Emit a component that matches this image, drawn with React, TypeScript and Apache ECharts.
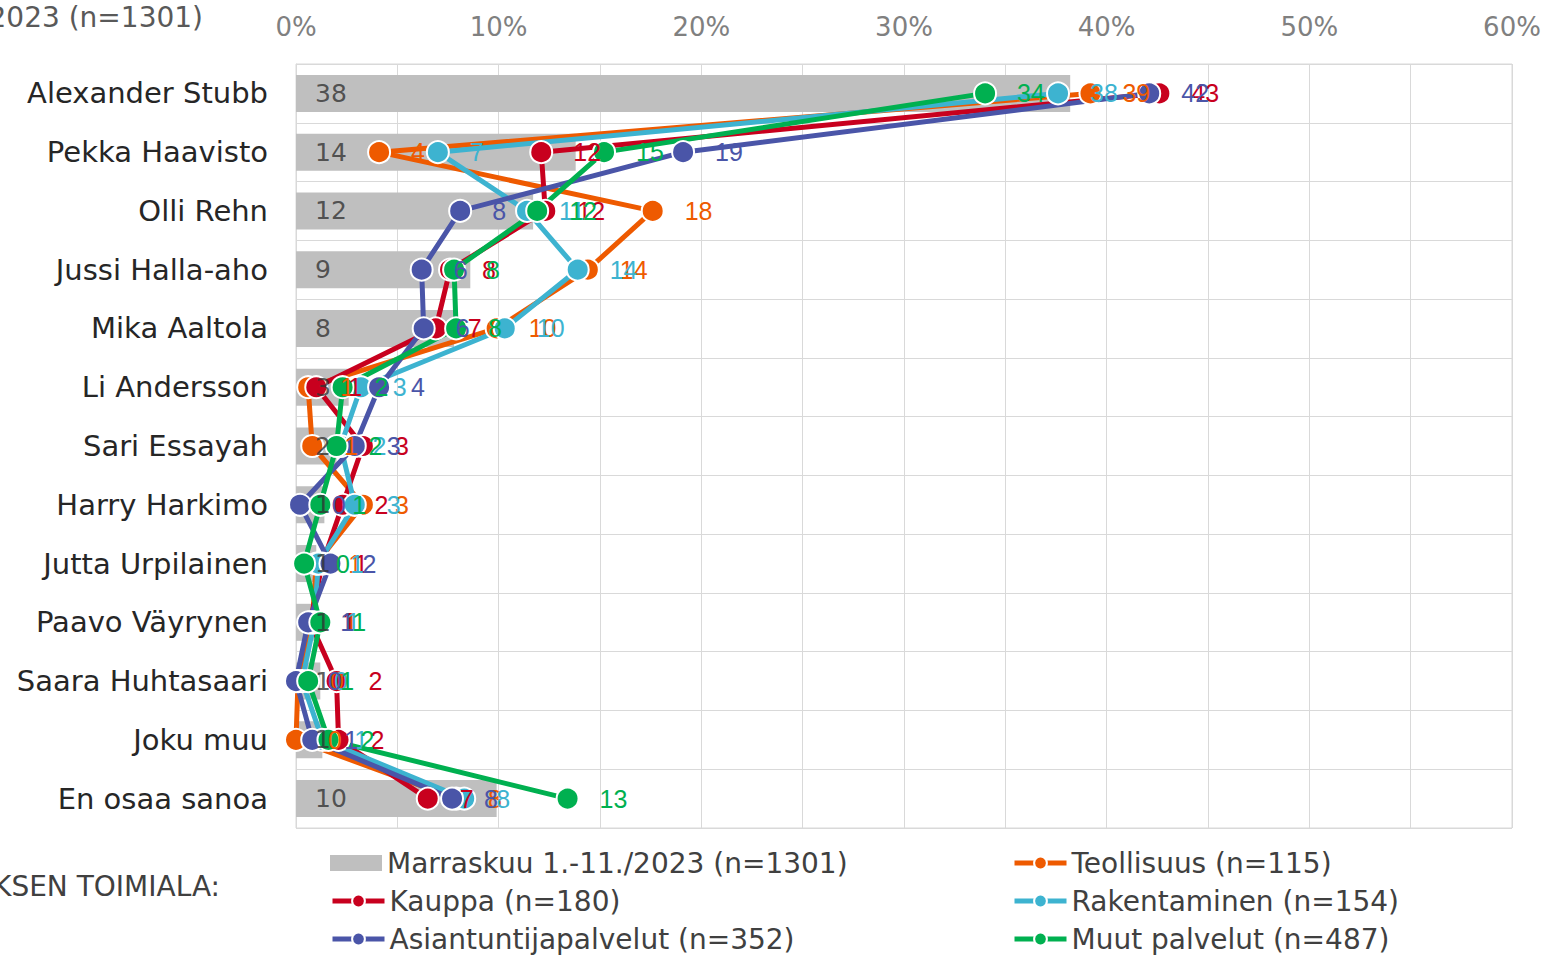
import React, { useEffect, useRef } from "react";
import * as echarts from "echarts";

const categories = [
  "Alexander Stubb",
  "Pekka Haavisto",
  "Olli Rehn",
  "Jussi Halla-aho",
  "Mika Aaltola",
  "Li Andersson",
  "Sari Essayah",
  "Harry Harkimo",
  "Jutta Urpilainen",
  "Paavo Väyrynen",
  "Saara Huhtasaari",
  "Joku muu",
  "En osaa sanoa",
];

const total = [38.2, 13.8, 11.7, 8.6, 7.8, 2.6, 2.0, 1.4, 1.0, 1.1, 1.2, 1.3, 9.9];
const teollisuus = [39.2, 4.1, 17.6, 14.4, 9.9, 0.6, 0.8, 3.3, 1.0, 0.8, 0.1, 0.0, 7.9];
const kauppa = [42.6, 12.1, 12.3, 7.6, 6.9, 1.0, 3.3, 2.3, 1.3, 0.7, 2.0, 2.1, 6.5];
const rakentaminen = [37.6, 7.0, 11.4, 13.9, 10.3, 3.2, 2.2, 2.9, 1.1, 0.9, 0.3, 1.3, 8.3];
const asiantuntija = [42.1, 19.1, 8.1, 6.2, 6.3, 4.1, 2.9, 0.2, 1.7, 0.6, 0.0, 0.8, 7.7];
const muut = [34.0, 15.2, 11.9, 7.8, 7.9, 2.3, 2.0, 1.2, 0.4, 1.2, 0.6, 1.6, 13.4];

const xTicks = [0, 10, 20, 30, 40, 50, 60];

const FONT = "DejaVu Sans";
const TOTAL_NAME = "Marraskuu 1.-11./2023 (n=1301)";

const lineSeries = [
  { name: "Teollisuus (n=115)", data: teollisuus, color: "#EE5A00" },
  { name: "Kauppa (n=180)", data: kauppa, color: "#C8001E" },
  { name: "Rakentaminen (n=154)", data: rakentaminen, color: "#3DB3D0" },
  { name: "Asiantuntijapalvelut (n=352)", data: asiantuntija, color: "#4A55A8" },
  { name: "Muut palvelut (n=487)", data: muut, color: "#00B050" },
];

// legend layout: [name, left, top]
const legendSlots: [string, number, number][] = [
  [TOTAL_NAME, 330, 847],
  ["Teollisuus (n=115)", 1012, 847],
  ["Kauppa (n=180)", 330, 885],
  ["Rakentaminen (n=154)", 1012, 885],
  ["Asiantuntijapalvelut (n=352)", 330, 923],
  ["Muut palvelut (n=487)", 1012, 923],
];

export default function App() {
  const ref = useRef<HTMLDivElement>(null);
  useEffect(() => {
    if (!ref.current) return;
    const chart = echarts.init(ref.current, undefined, { renderer: "svg" });
    const option: any = {
      animation: false,
      grid: { left: 296, right: 35, top: 64, bottom: 128, show: true, borderColor: "#D9D9D9", borderWidth: 1 },
      xAxis: {
        type: "value",
        position: "top",
        min: 0,
        max: 60,
        interval: 5,
        axisLabel: {
          formatter: (v: number) => (xTicks.includes(v) ? v + "%" : ""),
          color: "#808080",
          fontSize: 26,
          fontFamily: FONT,
          margin: 24,
        },
        splitLine: { show: true, lineStyle: { color: "#D9D9D9", width: 1 } },
        axisLine: { show: false },
        axisTick: { show: false },
      },
      yAxis: {
        type: "category",
        inverse: true,
        data: categories,
        axisLabel: { color: "#262626", fontSize: 29, fontFamily: FONT, margin: 28 },
        axisTick: { show: false },
        axisLine: { show: true, lineStyle: { color: "#D9D9D9" } },
        splitLine: { show: true, lineStyle: { color: "#D9D9D9" } },
      },
      legend: legendSlots.map(([name, left, top]) => ({
        left,
        top,
        padding: 0,
        itemWidth: 52,
        itemHeight: 16,
        itemGap: 5,
        lineStyle: { width: 5 },
        textStyle: { fontSize: 28, fontFamily: FONT, color: "#404040", lineHeight: 32 },
        data: [name === TOTAL_NAME ? { name, icon: "rect" } : name],
      })),
      graphic: [
        {
          type: "text",
          right: 1547 - 203,
          top: 3,
          style: { text: TOTAL_NAME, fontSize: 28, fontFamily: FONT, fill: "#595959" },
        },
        {
          type: "text",
          right: 1547 - 220,
          top: 872,
          style: { text: "YRITYKSEN TOIMIALA:", fontSize: 28, fontFamily: FONT, fill: "#404040" },
        },
      ],
      series: [
        {
          name: TOTAL_NAME,
          type: "bar",
          data: total,
          barWidth: 37,
          itemStyle: { color: "#BFBFBF" },
          label: { show: false },
          z: 2,
        },
        ...lineSeries.map((s) => ({
          name: s.name,
          type: "line",
          data: s.data,
          color: s.color,
          symbol: "circle",
          symbolSize: 22,
          lineStyle: { width: 5, color: s.color },
          itemStyle: { color: s.color, borderColor: "#FFFFFF", borderWidth: 2 },
          label: {
            show: true,
            position: "right",
            distance: 20,
            color: s.color,
            fontSize: 25,
            fontFamily: "Liberation Sans",
            formatter: (p: any) => String(Math.round(p.value)),
          },
          z: 3,
        })),
        {
          name: "bar-labels",
          type: "scatter",
          data: total.map((_, i) => [0, i]),
          symbolSize: 0,
          silent: true,
          label: {
            show: true,
            position: "right",
            distance: 19,
            color: "#333333",
            fontSize: 25,
            fontFamily: FONT,
            formatter: (p: any) => String(Math.round(total[p.dataIndex])),
          },
          z: 5,
        },
      ],
    };
    chart.setOption(option);
    return () => chart.dispose();
  }, []);
  return <div ref={ref} style={{ width: 1547, height: 956, position: "absolute", left: 0, top: 0 }} />;
}
